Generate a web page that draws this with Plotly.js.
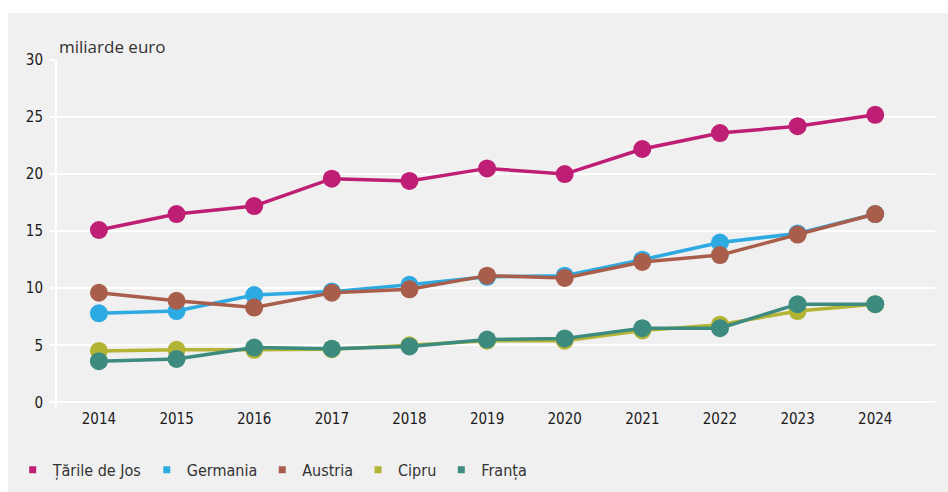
<!DOCTYPE html>
<html>
<head>
<meta charset="utf-8">
<script src="https://cdn.plot.ly/plotly-3.0.1.min.js"></script>
<style>
  body { margin: 0; background: #ffffff; }
  #myPlot { position: absolute; left: 8px; top: 13px; width: 940px; height: 479px; }
</style>
</head>
<body>
<div id="myPlot"></div>
<script>
// Years on the x axis
const years = [2014, 2015, 2016, 2017, 2018, 2019, 2020, 2021, 2022, 2023, 2024];

// Values, billions of euro
const tarileDeJos = [15.1, 16.5, 17.2, 19.6, 19.4, 20.5, 20.0, 22.2, 23.6, 24.2, 25.2];
const germania = [7.8, 8.0, 9.4, 9.7, 10.3, 11.0, 11.1, 12.5, 14.0, 14.8, 16.5];
const austria = [9.6, 8.9, 8.3, 9.6, 9.9, 11.1, 10.9, 12.3, 12.9, 14.7, 16.5];
const cipru = [4.5, 4.6, 4.6, 4.65, 5.0, 5.4, 5.4, 6.3, 6.8, 8.0, 8.6];
const franta = [3.6, 3.8, 4.8, 4.7, 4.9, 5.5, 5.6, 6.5, 6.5, 8.6, 8.6];

const names = ['Țările de Jos', 'Germania', 'Austria', 'Cipru', 'Franța'];
const colors = ['#be1e73', '#2eaae2', '#a95e4b', '#b4b434', '#3d8b7f'];
const series = [tarileDeJos, germania, austria, cipru, franta];

var data = [];
series.forEach(function (vals, i) {
  data.push({
    x: years,
    y: vals,
    type: 'scatter',
    mode: 'lines+markers',
    name: names[i],
    showlegend: false,
    line: { color: colors[i], width: 3.5 },
    marker: { color: colors[i], size: 18 }
  });
});
// legend entries with small square keys
names.forEach(function (n, i) {
  data.push({
    x: [null],
    y: [null],
    type: 'scatter',
    mode: 'markers',
    name: n,
    marker: { color: colors[i], size: 7, symbol: 'square' }
  });
});

var condensed = 'DejaVu Sans Condensed, Liberation Sans Narrow, sans-serif';
var tickFont = { family: condensed, size: 15, color: '#1a1a1a' };

var layout = {
  width: 940,
  height: 479,
  paper_bgcolor: '#f0f0f0',
  plot_bgcolor: '#f0f0f0',
  margin: { l: 49, r: 13, t: 47, b: 84, autoexpand: false },
  showlegend: true,
  legend: {
    orientation: 'h',
    xref: 'container',
    yref: 'container',
    x: 0.005,
    y: 0.046,
    xanchor: 'left',
    yanchor: 'middle',
    itemwidth: 30,
    font: { family: condensed, size: 16, color: '#333333' },
    bgcolor: 'rgba(0,0,0,0)'
  },
  xaxis: {
    range: [2013.46, 2024.77],
    tickvals: years,
    ticktext: years.map(String),
    showgrid: false,
    zeroline: false,
    showline: false,
    ticks: '',
    tickfont: tickFont
  },
  yaxis: {
    range: [-0.5, 30],
    tickvals: [0, 5, 10, 15, 20, 25, 30],
    gridcolor: '#ffffff',
    gridwidth: 2,
    zeroline: false,
    showline: true,
    linecolor: '#ffffff',
    linewidth: 2,
    ticks: 'outside',
    ticklen: 5,
    tickwidth: 2,
    tickcolor: '#ffffff',
    ticklabelstandoff: 4,
    tickfont: tickFont
  },
  annotations: [{
    text: 'miliarde euro',
    xref: 'paper',
    yref: 'y',
    x: 0.0,
    y: 30,
    xanchor: 'left',
    yanchor: 'bottom',
    showarrow: false,
    font: { family: 'Open Sans, sans-serif', size: 17, color: '#333333' }
  }]
};

Plotly.newPlot('myPlot', data, layout, { displayModeBar: false });
</script>
</body>
</html>
